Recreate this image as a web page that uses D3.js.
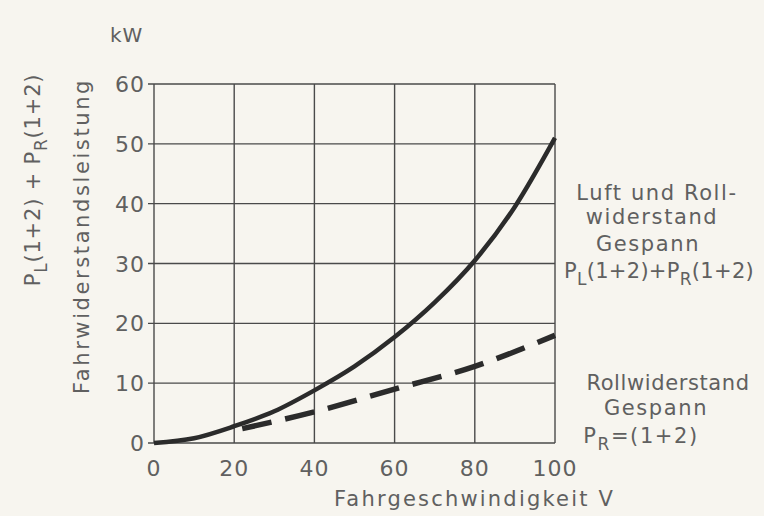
<!DOCTYPE html>
<html>
<head>
<meta charset="utf-8">
<script src="https://cdn.jsdelivr.net/npm/d3@7"></script>
<style>
  body { margin: 0; background: #f7f5ef; }
  svg text { font-family: "DejaVu Sans", sans-serif; fill: #606060; }
</style>
</head>
<body>
<div id="app"></div>
<script>
// speed in km/h, power in kW
const speed = [0, 10, 20, 30, 40, 50, 60, 70, 80, 90, 100];
const totalPower = [0, 0.8, 2.8, 5.3, 8.8, 12.8, 17.7, 23.5, 30.5, 39.5, 51];
const rollSpeed = [22, 40, 60, 80, 100];
const rollPower = [2.4, 5.2, 9, 12.8, 18];
const xTicks = [0, 20, 40, 60, 80, 100];
const yTicks = [0, 10, 20, 30, 40, 50, 60];

const W = 764, H = 516;
const margin = { top: 84, right: 209, bottom: 73, left: 154 };

const svg = d3.select('#app').append('svg')
  .attr('width', W).attr('height', H);

const x = d3.scaleLinear().domain([0, 100]).range([margin.left, W - margin.right]);
const y = d3.scaleLinear().domain([0, 60]).range([H - margin.bottom, margin.top]);

// grid
const grid = svg.append('g').attr('stroke', '#4a4a4a').attr('stroke-width', 1.4);
grid.selectAll('.gx').data(xTicks).join('line')
  .attr('x1', d => x(d)).attr('x2', d => x(d))
  .attr('y1', y(0)).attr('y2', y(60));
grid.selectAll('.gy').data(yTicks).join('line')
  .attr('x1', x(0) - 6).attr('x2', x(100))
  .attr('y1', d => y(d)).attr('y2', d => y(d));

// tick labels
svg.append('g').selectAll('text').data(xTicks).join('text')
  .attr('x', d => x(d)).attr('y', y(0) + 33)
  .attr('text-anchor', 'middle').attr('font-size', 22).attr('letter-spacing', 1)
  .text(d => d);
svg.append('g').selectAll('text').data(yTicks).join('text')
  .attr('x', x(0) - 9).attr('y', d => y(d) + 8)
  .attr('text-anchor', 'end').attr('font-size', 22).attr('letter-spacing', 1)
  .text(d => d);

// curves
const line = d3.line().curve(d3.curveMonotoneX);
svg.append('path')
  .attr('d', line(speed.map((s, i) => [x(s), y(totalPower[i])])))
  .attr('fill', 'none').attr('stroke', '#2b2b2b').attr('stroke-width', 4.5);
svg.append('path')
  .attr('d', line(rollSpeed.map((s, i) => [x(s), y(rollPower[i])])))
  .attr('fill', 'none').attr('stroke', '#2b2b2b').attr('stroke-width', 5.5)
  .attr('stroke-dasharray', '30 14');

// axis titles
svg.append('text').attr('x', 110).attr('y', 42).attr('font-size', 20).attr('letter-spacing', 1).text('kW');
svg.append('text')
  .attr('transform', 'translate(89, 236) rotate(-90)')
  .attr('text-anchor', 'middle').attr('font-size', 21).attr('letter-spacing', 2.6)
  .text('Fahrwiderstandsleistung');
const yl2 = svg.append('text')
  .attr('transform', 'translate(40, 180) rotate(-90)')
  .attr('text-anchor', 'middle').attr('font-size', 21).attr('letter-spacing', 0.8);
yl2.append('tspan').text('P');
yl2.append('tspan').attr('dy', 7).attr('font-size', 17).text('L');
yl2.append('tspan').attr('dy', -7).text('(1+2) + P');
yl2.append('tspan').attr('dy', 7).attr('font-size', 17).text('R');
yl2.append('tspan').attr('dy', -7).text('(1+2)');

svg.append('text').attr('x', 334).attr('y', 506).attr('font-size', 21).attr('letter-spacing', 2.2)
  .text('Fahrgeschwindigkeit  V');

// curve labels
const lab = svg.append('g').attr('text-anchor', 'middle').attr('font-size', 21).attr('letter-spacing', 1.6);
lab.append('text').attr('x', 657).attr('y', 200).text('Luft und Roll-');
lab.append('text').attr('x', 652).attr('y', 224).text('widerstand');
lab.append('text').attr('x', 648).attr('y', 251).text('Gespann');
const t1 = lab.append('text').attr('x', 659).attr('y', 278).attr('letter-spacing', 0.3);
t1.append('tspan').text('P');
t1.append('tspan').attr('dy', 7).attr('font-size', 17).text('L');
t1.append('tspan').attr('dy', -7).text('(1+2)+P');
t1.append('tspan').attr('dy', 7).attr('font-size', 17).text('R');
t1.append('tspan').attr('dy', -7).text('(1+2)');
lab.append('text').attr('x', 668).attr('y', 390).attr('letter-spacing', 0.6).text('Rollwiderstand');
lab.append('text').attr('x', 656).attr('y', 415).text('Gespann');
const t2 = lab.append('text').attr('x', 641).attr('y', 443);
t2.append('tspan').text('P');
t2.append('tspan').attr('dy', 7).attr('font-size', 17).text('R');
t2.append('tspan').attr('dy', -7).text('=(1+2)');
</script>
</body>
</html>
